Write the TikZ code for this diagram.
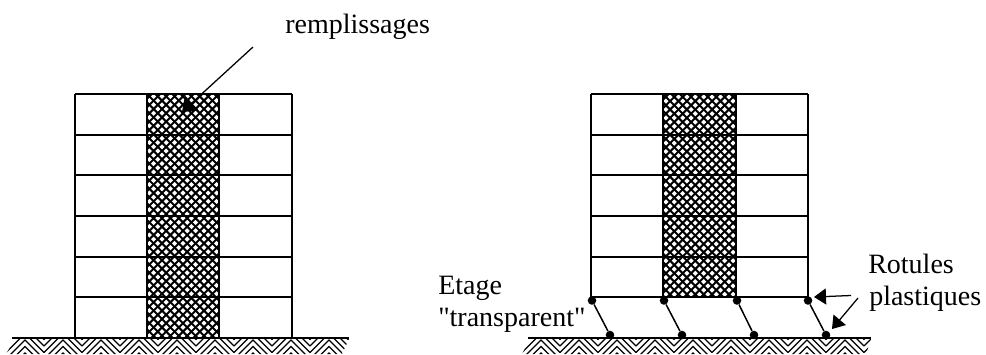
\documentclass[tikz,border=0pt]{standalone}
\usepackage{fontspec}
\setmainfont{Liberation Serif}[Ligatures=TeXOff]
\usetikzlibrary{arrows.meta}
\tikzset{
	frameline/.style={line width=1.5pt*0.75},
	hatchline/.style={line width=1.5pt},
	groundline/.style={line width=1pt},
	hinge/.style={circle, fill=black, inner sep=0pt, minimum size=6.4pt},
	label/.style={anchor=base west, inner sep=0pt, font=\fontsize{21}{24}\selectfont},
	pointer/.style={line width=0.95pt, -{Triangle[length=9pt, width=12pt]}},
}
\begin{document}
\begin{tikzpicture}[x=0.75pt, y=-0.75pt]
	\useasboundingbox (0, 0) rectangle (986, 354);

	% infill columns
	\begin{scope}
		\clip (147, 94) rectangle (219, 338);
		\foreach \k in {-32,...,9} {
			\draw[hatchline] (147+\k*8.4, 94) -- ++(260, 260);
			\draw[hatchline] (219-\k*8.4, 94) -- ++(-260, 260);
		}
	\end{scope}
	\begin{scope}
		\clip (663, 94) rectangle (736, 297);
		\foreach \k in {-32,...,9} {
			\draw[hatchline] (663+\k*8.4, 94) -- ++(260, 260);
			\draw[hatchline] (736-\k*8.4, 94) -- ++(-260, 260);
		}
	\end{scope}

	% ground
	\begin{scope}
		\clip (15, 339) -- (349, 339) -- (342, 354) -- (6, 354) -- cycle;
		\foreach \j in {-1,...,9}
			\foreach \k in {-6,...,0}
				\draw[groundline] (25+\j*38-19, 372+\k*6.5) -- ++(19, -19) -- ++(19, 19);
	\end{scope}
	\begin{scope}
		\clip (530, 339) -- (871, 339) -- (866, 354) -- (522, 354) -- cycle;
		\foreach \j in {-1,...,9}
			\foreach \k in {-6,...,0}
				\draw[groundline] (541+\j*38-19, 372+\k*6.5) -- ++(19, -19) -- ++(19, 19);
	\end{scope}
	\draw[frameline] (12, 338) -- (349, 338);
	\draw[frameline] (528, 338) -- (871, 338);

	% left frame
	\foreach \y in {94, 135, 175, 216, 257, 297}
		\draw[frameline] (75, \y) -- (292, \y);
	\foreach \x in {75, 147, 219, 292}
		\draw[frameline] (\x, 94) -- (\x, 338);

	% right frame
	\foreach \y in {94, 135, 175, 216, 257, 297}
		\draw[frameline] (591, \y) -- (808, \y);
	\foreach \x in {591, 663, 736, 808}
		\draw[frameline] (\x, 94) -- (\x, 297);

	% soft storey
	\node[hinge] (topa) at (592, 300.5) {};
	\node[hinge] (topb) at (664, 300.5) {};
	\node[hinge] (topc) at (737, 300.5) {};
	\node[hinge] (topd) at (808, 300.5) {};
	\node[hinge] (basea) at (610, 335) {};
	\node[hinge] (baseb) at (682, 335) {};
	\node[hinge] (basec) at (754, 335) {};
	\node[hinge] (based) at (826, 335) {};
	\draw[frameline] (topa) -- (basea);
	\draw[frameline] (topb) -- (baseb);
	\draw[frameline] (topc) -- (basec);
	\draw[frameline] (topd) -- (based);

	% labels
	\node[label] (infill) at (285, 33) {remplissages};
	\node[label] (etage) at (438, 294) {Etage};
	\node[label] (transparent) at (438, 326) {"transparent"};
	\node[label] (rotules) at (868, 273) {Rotules};
	\node[label] (plastiques) at (869, 305) {plastiques};

	% pointers
	\coordinate (infillstart) at (253, 47);
	\coordinate (infilltip) at (182, 112);
	\coordinate (hingestart) at (851, 295.5);
	\coordinate (hingetip) at (814, 297);
	\coordinate (basestart) at (858, 298);
	\coordinate (basetip) at (832, 329);
	\draw[pointer, -{Triangle[length=10pt, width=15pt]}] (infillstart) -- (infilltip);
	\draw[pointer] (hingestart) -- (hingetip);
	\draw[pointer] (basestart) -- (basetip);
\end{tikzpicture}
\end{document}
